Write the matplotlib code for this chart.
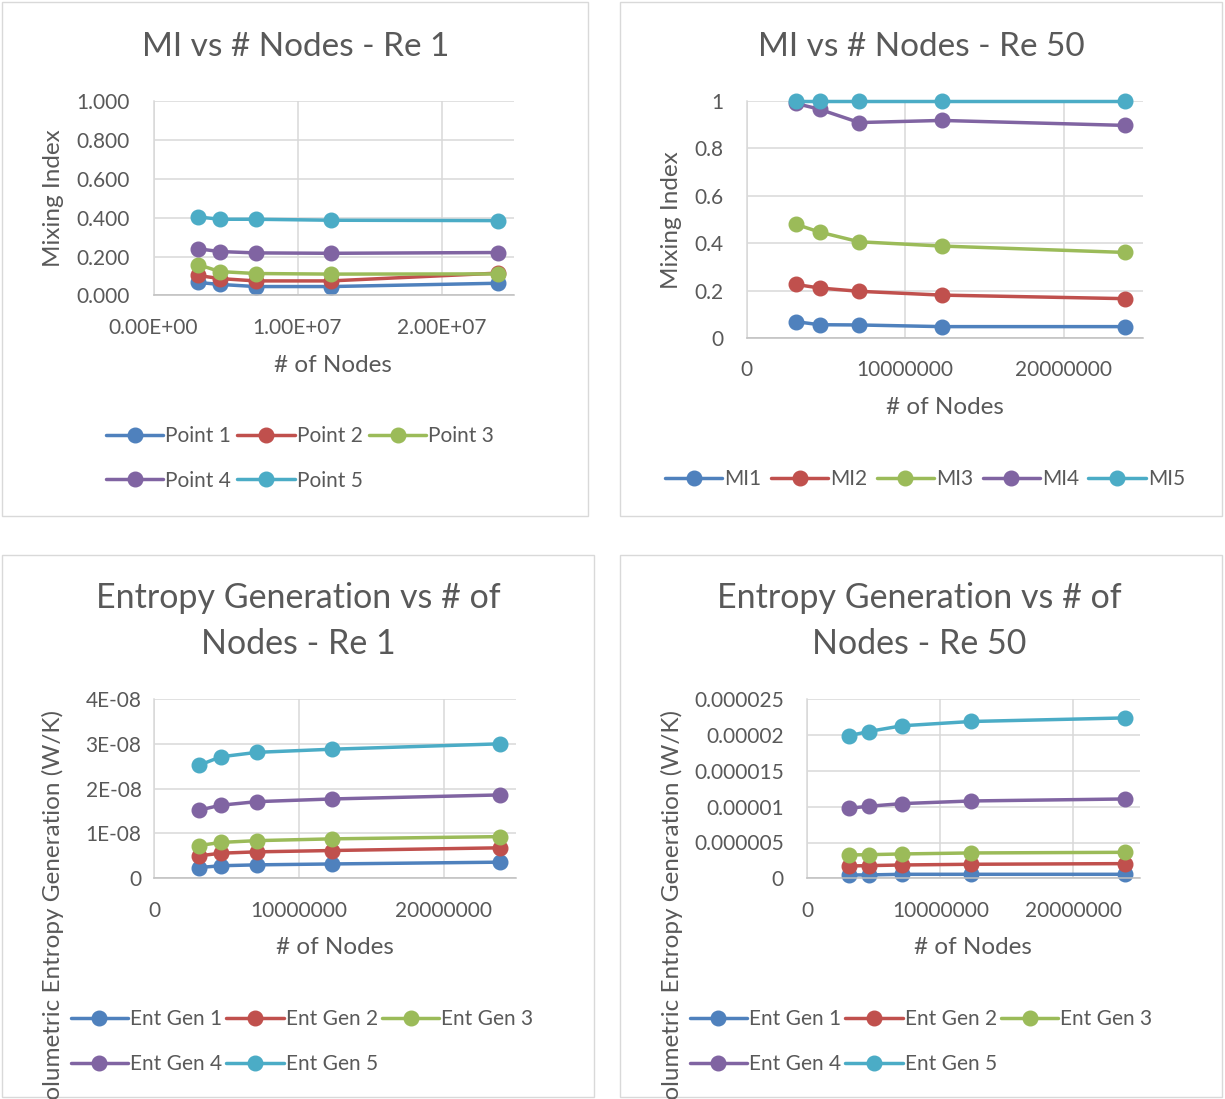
import matplotlib
matplotlib.use("Agg")
import matplotlib.pyplot as plt
from matplotlib.patches import Rectangle

plt.rcParams['font.family'] = ['Lato', 'DejaVu Sans']

W, H = 1225, 1099
TXT = '#595959'
colors = ['#4F81BD', '#C0504D', '#9BBB59', '#8064A2', '#4BACC6']

# x values (# of nodes), same mesh set for every chart
nodes = [3.1e6, 4.6e6, 7.1e6, 1.23e7, 2.39e7]

# MI, Re 1
mi_re1_p1 = [0.067, 0.057, 0.046, 0.046, 0.063]
mi_re1_p2 = [0.103, 0.087, 0.075, 0.075, 0.115]
mi_re1_p3 = [0.159, 0.123, 0.113, 0.110, 0.111]
mi_re1_p4 = [0.240, 0.226, 0.219, 0.217, 0.221]
mi_re1_p5 = [0.404, 0.392, 0.392, 0.387, 0.385]

# MI, Re 50
mi_re50_1 = [0.069, 0.056, 0.055, 0.048, 0.048]
mi_re50_2 = [0.226, 0.211, 0.197, 0.181, 0.166]
mi_re50_3 = [0.480, 0.447, 0.406, 0.388, 0.361]
mi_re50_4 = [0.990, 0.965, 0.909, 0.918, 0.897]
mi_re50_5 = [1.0, 1.0, 1.0, 1.0, 1.0]

# entropy generation, Re 1
eg_re1_1 = [2.4e-9, 2.8e-9, 3.0e-9, 3.2e-9, 3.6e-9]
eg_re1_2 = [5.0e-9, 5.6e-9, 5.9e-9, 6.2e-9, 6.8e-9]
eg_re1_3 = [7.3e-9, 8.0e-9, 8.4e-9, 8.8e-9, 9.3e-9]
eg_re1_4 = [1.52e-8, 1.63e-8, 1.71e-8, 1.77e-8, 1.86e-8]
eg_re1_5 = [2.52e-8, 2.71e-8, 2.81e-8, 2.88e-8, 3.0e-8]

# entropy generation, Re 50
eg_re50_1 = [4.7e-7, 4.7e-7, 5.6e-7, 5.6e-7, 5.6e-7]
eg_re50_2 = [1.72e-6, 1.77e-6, 1.86e-6, 1.96e-6, 2.05e-6]
eg_re50_3 = [3.26e-6, 3.30e-6, 3.40e-6, 3.54e-6, 3.63e-6]
eg_re50_4 = [9.78e-6, 1.006e-5, 1.043e-5, 1.08e-5, 1.108e-5]
eg_re50_5 = [1.99e-5, 2.05e-5, 2.13e-5, 2.19e-5, 2.24e-5]

mi_names_re1 = ['Point 1', 'Point 2', 'Point 3', 'Point 4', 'Point 5']
mi_names_re50 = ['MI1', 'MI2', 'MI3', 'MI4', 'MI5']
eg_names = ['Ent Gen 1', 'Ent Gen 2', 'Ent Gen 3', 'Ent Gen 4', 'Ent Gen 5']

xticks = [0, 1e7, 2e7]
xlabels_sci = ['0.00E+00', '1.00E+07', '2.00E+07']
xlabels_plain = ['0', '10000000', '20000000']
yticks_mi1 = [0, 0.2, 0.4, 0.6, 0.8, 1.0]
ylabels_mi1 = ['0.000', '0.200', '0.400', '0.600', '0.800', '1.000']
ylabels_mi50 = ['0', '0.2', '0.4', '0.6', '0.8', '1']
yticks_eg1 = [0, 1e-8, 2e-8, 3e-8, 4e-8]
ylabels_eg1 = ['0', '1E-08', '2E-08', '3E-08', '4E-08']
yticks_eg50 = [0, 5e-6, 1e-5, 1.5e-5, 2e-5, 2.5e-5]
ylabels_eg50 = ['0', '0.000005', '0.00001', '0.000015', '0.00002', '0.000025']

fig = plt.figure(figsize=(W / 100, H / 100), dpi=100)


def fx(x):
    return x / W


def fy(y):
    return 1 - y / H


def panel(box, axbox, series, names, yt, yl, xl, ylim, title, tx, ty,
          xlab_pos, ylab_pos, ylab_top, leg_pos, ncol, ypad, tsize, colsp):
    # chart area border
    bx0, by0, bx1, by1 = box
    fig.patches.append(Rectangle((fx(bx0), fy(by1)), (bx1 - bx0) / W, (by1 - by0) / H,
                                 transform=fig.transFigure, fill=False,
                                 edgecolor='#D9D9D9', lw=1.0))
    l, r, t, b = axbox
    ax = fig.add_axes([fx(l), fy(b), (r - l) / W, (b - t) / H])
    lines = []
    for vals, c, n in zip(series, colors, names):
        ln, = ax.plot(nodes, vals, color=c, lw=2.5, marker='o', ms=10.5,
                      label=n, clip_on=False, solid_capstyle='round')
        lines.append(ln)
    ax.set_xlim(0, 2.5e7)
    ax.set_ylim(*ylim)
    ax.set_xticks(xticks)
    ax.set_xticklabels(xl)
    ax.set_yticks(yt)
    ax.set_yticklabels(yl)
    ax.set_axisbelow(True)
    ax.grid(True, color='#D9D9D9', lw=1.1)
    for s in ['top', 'right']:
        ax.spines[s].set_visible(False)
    ax.spines['left'].set_color('#D9D9D9')
    ax.spines['bottom'].set_color('#BFBFBF')
    ax.spines['left'].set_linewidth(1.1)
    ax.spines['bottom'].set_linewidth(1.1)
    ax.tick_params(length=0, labelsize=15, colors=TXT)
    ax.tick_params(axis='y', pad=ypad)
    ax.tick_params(axis='x', pad=16)

    for i, line in enumerate(title):
        fig.text(fx(tx), fy(ty + i * 46), line, ha='center', va='center',
                 fontsize=tsize, color=TXT)
    fig.text(fx(xlab_pos[0]), fy(xlab_pos[1]), '# of Nodes', ha='center',
             va='center', fontsize=17.5, color=TXT)
    if ylab_top:
        fig.text(fx(ylab_pos[0]), fy(ylab_pos[1]), ylab_pos[2], ha='center',
                 va='top', rotation=90, fontsize=17.5, color=TXT)
    else:
        fig.text(fx(ylab_pos[0]), fy(ylab_pos[1]), ylab_pos[2], ha='center',
                 va='center', rotation=90, fontsize=17.5, color=TXT)

    if ncol == 3:
        order = [0, 3, 1, 4, 2]
    else:
        order = [0, 1, 2, 3, 4]
    leg = fig.legend([lines[i] for i in order], [names[i] for i in order],
                     loc='center', bbox_to_anchor=(fx(leg_pos[0]), fy(leg_pos[1])),
                     ncol=ncol, frameon=False, fontsize=15, handlelength=2.75,
                     handletextpad=0.1, columnspacing=colsp, labelspacing=1.18,
                     borderpad=0)
    for t_ in leg.get_texts():
        t_.set_color(TXT)
    return ax


panel((2, 2, 588, 516), (153.5, 513.5, 101, 295.5),
      [mi_re1_p1, mi_re1_p2, mi_re1_p3, mi_re1_p4, mi_re1_p5], mi_names_re1,
      yticks_mi1, ylabels_mi1, xlabels_sci, (0, 1.0),
      ['MI vs # Nodes - Re 1'], 295.5, 47,
      (333, 365), (53, 198, 'Mixing Index'), False, (300, 458.5), 3, 17, 24, 0.3)

panel((620, 2, 1222, 516), (746.7, 1142.7, 101, 338),
      [mi_re50_1, mi_re50_2, mi_re50_3, mi_re50_4, mi_re50_5], mi_names_re50,
      yticks_mi1, ylabels_mi50, xlabels_plain, (0, 1.0),
      ['MI vs # Nodes - Re 50'], 921, 47,
      (945, 408), (672, 220, 'Mixing Index'), False, (925, 479), 5, 17, 24, 0.45)

panel((2, 555, 594, 1097), (154, 516, 699, 878.3),
      [eg_re1_1, eg_re1_2, eg_re1_3, eg_re1_4, eg_re1_5], eg_names,
      yticks_eg1, ylabels_eg1, xlabels_plain, (0, 4e-8),
      ['Entropy Generation vs # of', 'Nodes - Re 1'], 298.5, 598,
      (335, 948), (53, 710, 'Volumetric Entropy Generation (W/K)'), True,
      (302, 1041.5), 3, 9, 24.5, 0.2)

panel((620, 555, 1222, 1097), (807.3, 1140, 699.3, 878.3),
      [eg_re50_1, eg_re50_2, eg_re50_3, eg_re50_4, eg_re50_5], eg_names,
      yticks_eg50, ylabels_eg50, xlabels_plain, (0, 2.5e-5),
      ['Entropy Generation vs # of', 'Nodes - Re 50'], 919, 598,
      (973, 948), (672, 710, 'Volumetric Entropy Generation (W/K)'), True,
      (921, 1041.5), 3, 17, 24.5, 0.2)

fig.savefig('out.png', dpi=100, facecolor='white')
